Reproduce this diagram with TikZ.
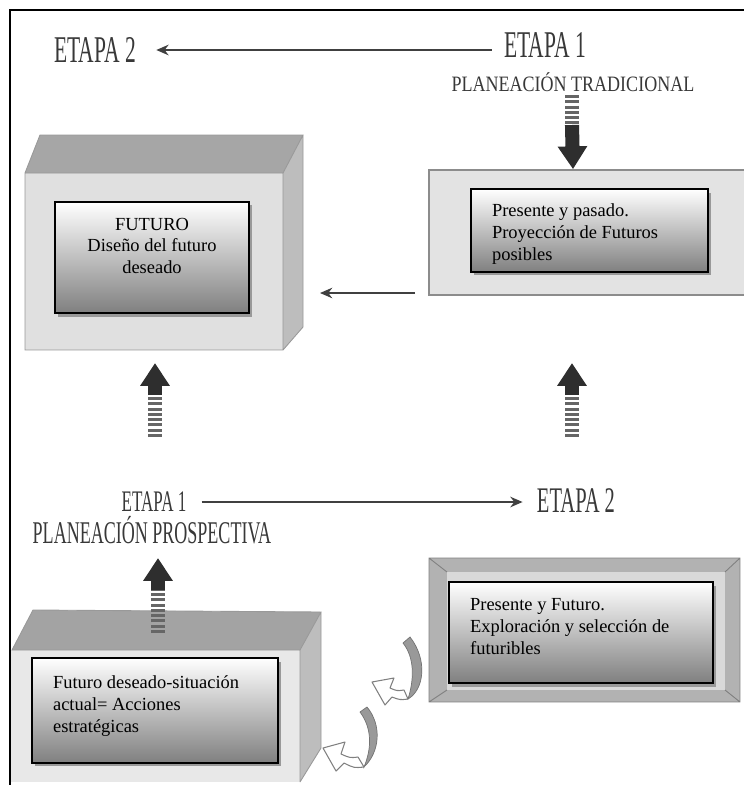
\documentclass[tikz,border=0pt]{standalone}
\usepackage{fontspec}
\setmainfont{Liberation Serif}
\newfontfamily\etapafont[FakeStretch=0.57]{Liberation Serif}
\newfontfamily\planfont[FakeStretch=0.82]{Liberation Serif}
\usetikzlibrary{arrows.meta,positioning,shadows}

\tikzset{
  etapa/.style={inner sep=0pt, text=black!78, font=\etapafont\fontsize{21.5}{21.5}\selectfont},
  plan/.style={inner sep=0pt, text=black!78, font=\planfont\fontsize{12.5}{12.5}\selectfont},
  thinarrow/.style={line width=1.1pt, draw=black!75, -{Stealth[length=7pt,width=6pt]}},
  stripeshaft/.style={line width=8pt, draw=black!60, dash pattern=on 1.7pt off 1.3pt},
  bigarrow/.style={line width=8pt, draw=black!82, -{Triangle[length=13pt,width=16pt]}},
  inbox/.style={draw, line width=1.4pt, inner sep=0pt, top color=white, middle color=black!6,
    bottom color=black!50, font=\fontsize{10.5}{12.5}\selectfont,
    drop shadow={shadow xshift=1.5pt, shadow yshift=-2pt, fill=black!40, opacity=1}},
  ribbon/.style={fill=black!40, draw=black!55, line width=0.4pt},
  hollow/.style={fill=white, draw=black!50, line width=0.6pt, line join=round}
}

\begin{document}
\begin{tikzpicture}[x=0.02cm, y=-0.02cm]
  \useasboundingbox (0,0) rectangle (744,785);

  % upper left box (FUTURO)
  \fill[black!12] (25,173) rectangle (283,350);
  \fill[black!35] (25,173) -- (40,135) -- (303,135) -- (283,173) -- cycle;
  \fill[black!26] (283,173) -- (303,135) -- (303,327) -- (283,350) -- cycle;
  \draw[black!40, line width=0.5pt] (25,173) rectangle (283,350) (25,173) -- (40,135) -- (303,135) -- (283,173)
    (303,135) -- (303,327) -- (283,350);

  % upper right slab
  \node[draw=black!45, line width=1pt, fill=black!11, minimum width=180.4pt, minimum height=71.1pt,
    inner sep=0pt] (slab) at (587.5,232.5) {};

  % lower left box
  \fill[black!9] (10,650) rectangle (300,782);
  \fill[black!36] (12,650) -- (33,610) -- (321,612) -- (300,650) -- cycle;
  \fill[black!26] (300,650) -- (321,612) -- (321,748) -- (300,782) -- cycle;
  \draw[black!40, line width=0.5pt] (12,650) -- (33,610) -- (321,612) -- (300,650) -- cycle
    (300,650) -- (300,782) (321,612) -- (321,748) -- (300,782);

  % lower right frame
  \fill[black!30] (429,558) rectangle (740,702);
  \fill[black!15] (447,572) rectangle (725,690);
  \draw[black!50, line width=0.5pt] (429,558) rectangle (740,702)
    (429,558) -- (447,572) (740,558) -- (725,572) (429,702) -- (447,690) (740,702) -- (725,690);

  % labels
  \node[etapa] (etapaDos) at (95,50) {ETAPA 2};
  \node[etapa] (etapaUno) at (545,45) {ETAPA 1};
  \node[plan] (tradicional) at (573,82) {PLANEACIÓN TRADICIONAL};
  \node[etapa, font=\etapafont\fontsize{17}{17}\selectfont] (etapaUnoB) at (154,502) {ETAPA 1};
  \node[etapa, font=\etapafont\fontsize{18}{18}\selectfont] (prospectiva) at (152,530) {PLANEACIÓN PROSPECTIVA};
  \node[etapa, font=\etapafont\fontsize{20.5}{20.5}\selectfont] (etapaDosB) at (576,501) {ETAPA 2};

  % thin arrows
  \draw[thinarrow, shorten <=6.8pt, shorten >=11.4pt] (etapaUno.west |- etapaDos) -- (etapaDos.east);
  \draw[thinarrow, shorten <=8.5pt, shorten >=8pt] (etapaUnoB.east) -- (etapaDosB.west |- etapaUnoB.east);
  \coordinate (slabgap) at (415,293);
  \coordinate (boxgap) at (320,293);
  \draw[thinarrow, line width=0.9pt] (slabgap) -- (boxgap);

  % thick striped arrows
  \coordinate (downmid) at (572,125);
  \draw[stripeshaft] (572,95) -- (downmid);
  \draw[bigarrow] (downmid) -- (tradicional |- slab.north);

  \coordinate (leftfoot) at (155,437);
  \coordinate (leftmid) at (155,395);
  \coordinate (lefttip) at (155,363);
  \draw[stripeshaft] (leftfoot) -- (leftmid);
  \draw[bigarrow] (leftmid) -- (lefttip);

  \coordinate (rightfoot) at (572,437);
  \coordinate (rightmid) at (572,395);
  \coordinate (righttip) at (572,363);
  \draw[stripeshaft] (rightfoot) -- (rightmid);
  \draw[bigarrow] (rightmid) -- (righttip);

  \coordinate (lowfoot) at (158,633);
  \coordinate (lowmid) at (158,590);
  \coordinate (lowtip) at (158,558);
  \draw[stripeshaft] (lowfoot) -- (lowmid);
  \draw[bigarrow] (lowmid) -- (lowtip);

  % curled ribbons
  \fill[ribbon] (410,637) .. controls (428,660) and (424,690) .. (408,699)
    .. controls (414,680) and (415,658) .. (403,643) -- cycle;
  \draw[hollow] (408,699) .. controls (400,700) .. (392,697) -- (385,705) -- (372,682) -- (394,678)
    -- (390,688) .. controls (397,691) .. (404,690) -- cycle;
  \fill[ribbon] (367,707) .. controls (382,725) and (380,752) .. (364,767)
    .. controls (372,748) and (372,728) .. (360,712) -- cycle;
  \draw[hollow] (364,767) .. controls (354,768) .. (344,763) -- (336,771) -- (323,748) -- (345,742)
    -- (341,754) .. controls (350,758) .. (358,757) -- cycle;

  % text boxes
  \node[inbox] (futuro) at (152,257.5)
    {\parbox[c][63.2pt][t]{110.4pt}{\centering\vspace*{9pt}FUTURO\\ Diseño del futuro\\ deseado}};
  \node[inbox] (pasado) at (589.5,230.5)
    {\parbox[c][47.2pt][t]{134.9pt}{\raggedright\leftskip=12pt\vspace*{8.5pt}Presente y pasado.\\ Proyección de Futuros\\ posibles}};
  \node[inbox] (acciones) at (155,710.5)
    {\parbox[c][59.7pt][t]{140pt}{\raggedright\leftskip=12pt\vspace*{10pt}Futuro deseado-situación\\ actual= Acciones\\ estratégicas}};
  \node[inbox] (futuribles) at (581,632.5)
    {\parbox[c][57.5pt][t]{150.2pt}{\raggedright\leftskip=12pt\vspace*{9.5pt}Presente y Futuro.\\ Exploración y selección de\\ futuribles}};

  % frame
  \draw[line width=1.3pt] (10,785) -- (10,10) -- (744,10);
\end{tikzpicture}
\end{document}
